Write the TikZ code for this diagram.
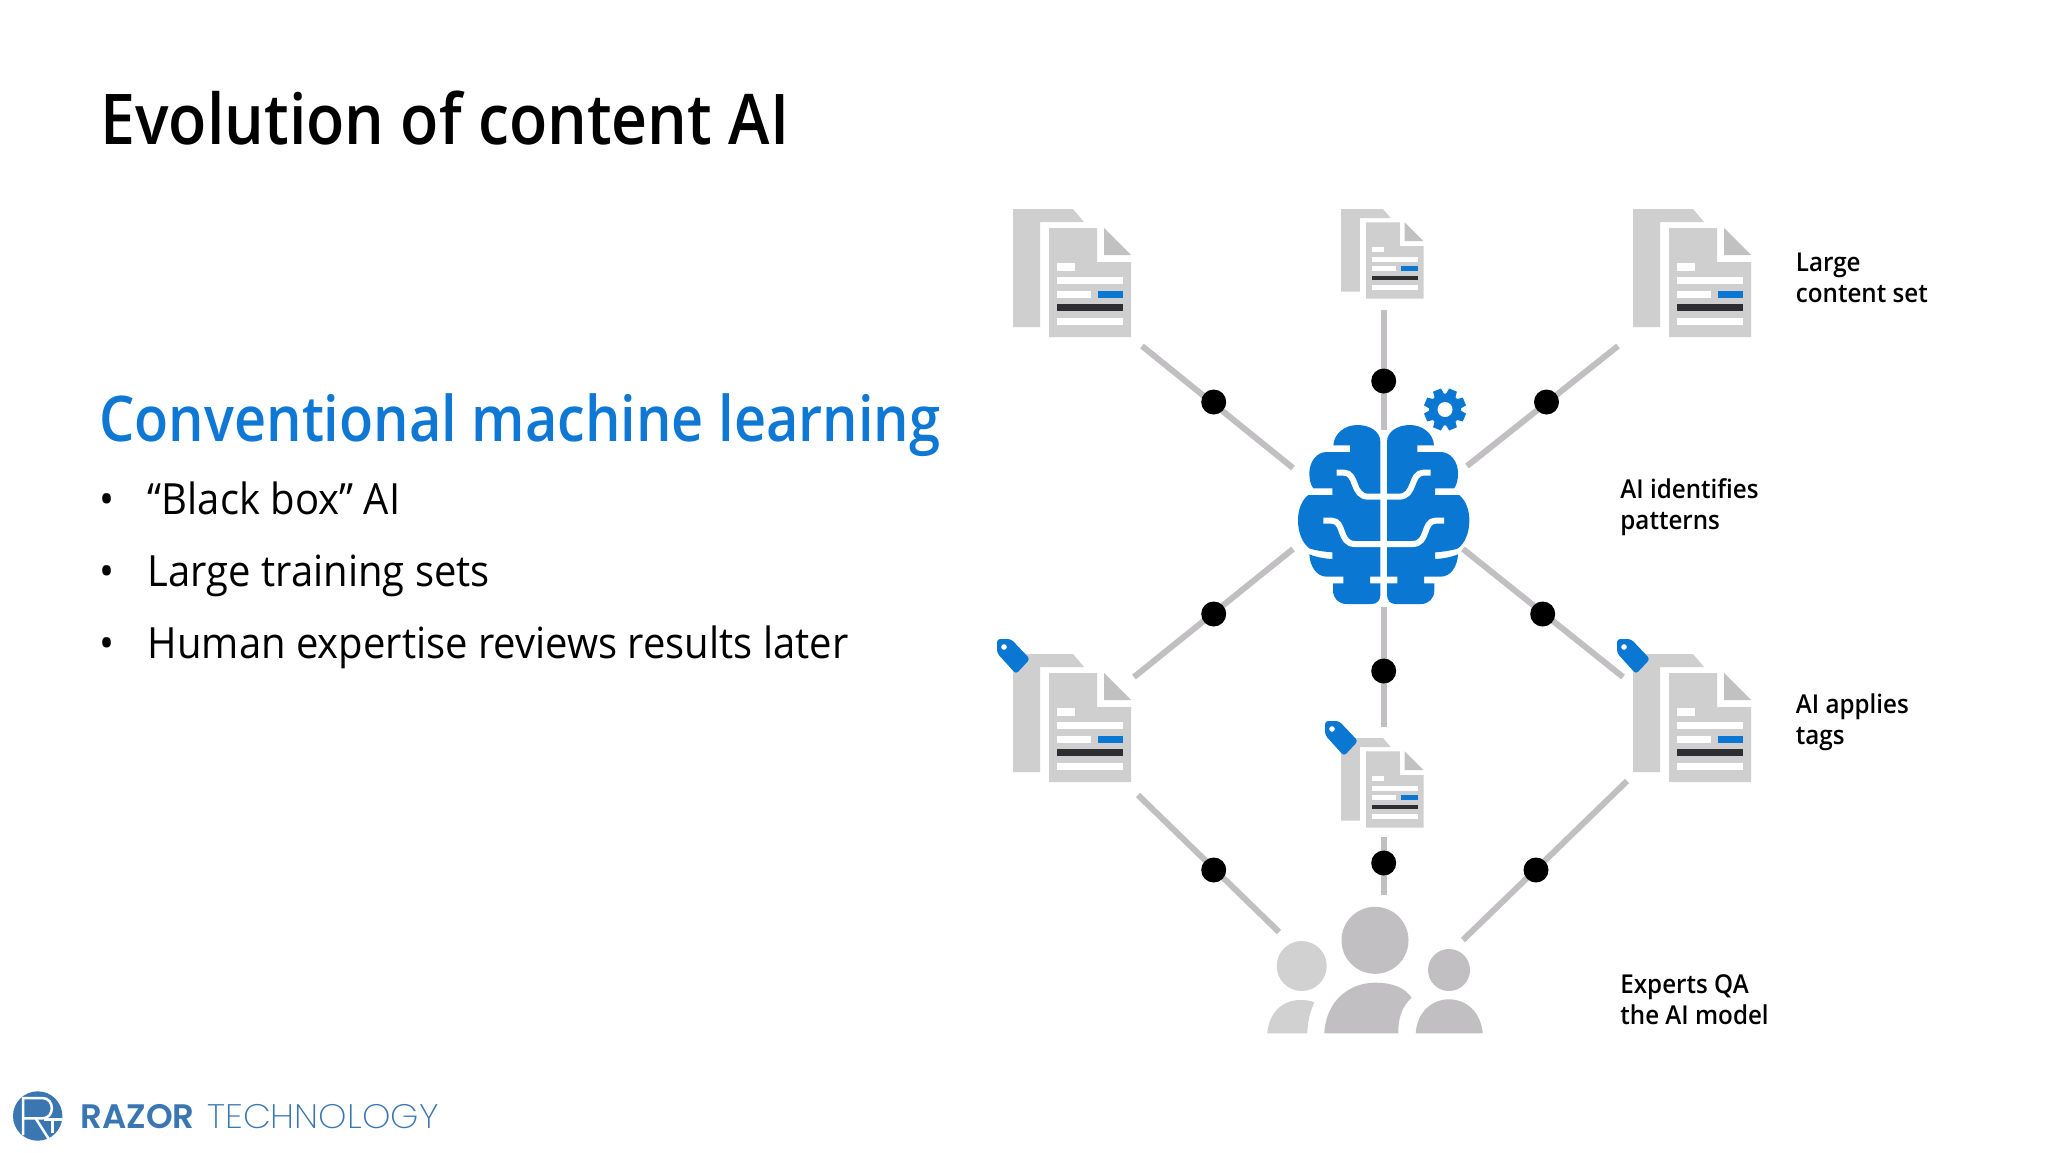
\documentclass[tikz,border=0pt]{standalone}
\usepackage{fontspec}
\setmainfont{Open Sans}[FakeStretch=0.93]
\newfontfamily\semib{Open Sans Semibold}[FakeStretch=0.93]
\newfontfamily\titlef{Open Sans Semibold}[FakeStretch=0.895]
\newfontfamily\subf{Open Sans Semibold}[FakeStretch=0.887]
\newfontfamily\logofont{Poppins SemiBold}
\newfontfamily\logothin{Poppins ExtraLight}[FakeStretch=1.062]
\definecolor{msblue}{HTML}{0F78D4}
\definecolor{iconblue}{HTML}{0A78D2}
\definecolor{docgray}{HTML}{D0CFD0}
\definecolor{foldgray}{HTML}{C2C1C2}
\definecolor{linegray}{HTML}{C1BFC1}
\definecolor{peoplegray}{HTML}{C1BFC1}
\definecolor{peoplelight}{HTML}{D2D1D2}
\definecolor{darkbar}{HTML}{2E2E30}
\definecolor{logoblue}{HTML}{3A77B2}
\tikzset{
  x=.5pt,y=-.5pt,
  conn/.style={draw=linegray,line width=3pt},
  dotnode/.style={circle,fill=black,inner sep=0pt,minimum size=12.5pt},
  lab/.style={font=\fontsize{13pt}{15.5pt}\selectfont\semib,anchor=base west,inner sep=0pt,align=left},
  bul/.style={font=\fontsize{21.5pt}{24pt}\selectfont,anchor=base west,inner sep=0pt},
  pics/docicon/.style={code={
    \fill[docgray] (0,0)--(60,0)--(71,13)--(27,13)--(27,118)--(0,118)--cycle;
    \fill[docgray] (36,19)--(84,19)--(84,53)--(118,53)--(118,128)--(36,128)--cycle;
    \fill[foldgray] (91,19)--(91,46)--(118,46)--cycle;
    \fill[white] (44,54) rectangle (62,62);
    \fill[white] (44,68) rectangle (110,75);
    \fill[white] (44,82) rectangle (78,89);
    \fill[iconblue] (85,82) rectangle (110,89);
    \fill[darkbar] (44,95) rectangle (110,102);
    \fill[white] (44,109) rectangle (110,116);
  }},
  pics/tagicon/.style={code={
    \fill[iconblue,rounded corners=1.6pt] (-16,-15)--(-2,-15)--(17,5)--(3,20)--(-16,-1)--cycle;
    \fill[white] (-9,-7) circle[radius=2.8];
  }},
  pics/brainhalf/.style={code={
    \fill[iconblue] (331,215) .. controls (331,185) and (300,165) .. (262,165)
      .. controls (225,165) and (192,190) .. (190,226) -- (240,226) -- (240,246) -- (170,246)
      .. controls (140,246) and (118,275) .. (118,310) .. controls (118,330) and (122,345) .. (130,355)
      -- (187,355) -- (187,375) -- (115,375) .. controls (95,390) and (84,420) .. (84,450)
      .. controls (84,490) and (98,520) .. (118,535) .. controls (140,543) and (165,545) .. (187,547)
      -- (187,567) .. controls (165,566) and (140,562) .. (118,553)
      .. controls (120,590) and (140,620) .. (170,620) -- (220,620) -- (220,640) -- (189,640) -- (189,660)
      .. controls (189,685) and (205,702) .. (230,702) -- (305,702) .. controls (320,702) and (331,692) .. (331,675)
      -- (331,640) -- (300,640) -- (300,620) -- (331,620) -- cycle;
    \draw[white,line width=3pt] (200,308) -- (222,308) .. controls (262,308) and (245,380) .. (295,380) -- (335,380);
    \draw[white,line width=3pt] (160,452) -- (185,452) .. controls (225,452) and (205,522) .. (255,522) -- (335,522);
  }},
}
\begin{document}
\begin{tikzpicture}
\useasboundingbox (0,0) rectangle (2048,1152);
\fill[white] (0,0) rectangle (2048,1152);

% connector ends
\coordinate (tlA) at (1142,346); \coordinate (tlB) at (1293,468);
\coordinate (tmA) at (1383.7,310); \coordinate (tmB) at (1383.7,430);
\coordinate (trA) at (1618,346); \coordinate (trB) at (1467,466);
\coordinate (mlA) at (1293,549); \coordinate (mlB) at (1134,677);
\coordinate (mmA) at (1383.7,607); \coordinate (mmB) at (1383.7,727);
\coordinate (mrA) at (1463,549); \coordinate (mrB) at (1623,677);
\coordinate (blA) at (1138,795); \coordinate (blB) at (1279,932);
\coordinate (bmA) at (1383.7,837); \coordinate (bmB) at (1383.7,895);
\coordinate (brA) at (1627,781); \coordinate (brB) at (1463,940);
\foreach \p in {tl,tm,tr,ml,mm,mr,bl,bm,br}{\draw[conn] (\p A) -- (\p B);}

\node[dotnode] (dtl) at (1213.7,402) {};
\node[dotnode] (dtm) at (1383.7,381) {};
\node[dotnode] (dtr) at (1546.5,402) {};
\node[dotnode] (dml) at (1213.7,614) {};
\node[dotnode] (dmm) at (1383.7,671) {};
\node[dotnode] (dmr) at (1542.7,614) {};
\node[dotnode] (dbl) at (1213.7,870) {};
\node[dotnode] (dbm) at (1383.7,863) {};
\node[dotnode] (dbr) at (1536,870) {};

% documents
\pic at (1013,209) {docicon};
\pic[scale=.7] at (1341,209) {docicon};
\pic at (1633,209) {docicon};
\pic at (1013,654) {docicon};
\pic[scale=.7] at (1341,738) {docicon};
\pic at (1633,654) {docicon};
\pic at (1013,654) {tagicon};
\pic at (1341,736) {tagicon};
\pic at (1633,654) {tagicon};

% brain
\pic[shift={(1383.67-113.67,370)},scale=1/3] at (0,0) {brainhalf};
\pic[shift={(1383.67+113.67,370)},xscale=-1/3,yscale=1/3] at (0,0) {brainhalf};

% gear
\begin{scope}[shift={(1445,409.5)}]
  \foreach \a in {0,45,...,315}{
    \fill[iconblue,rotate=\a+22.5] (-4.2,-21) -- (4.2,-21) -- (5.5,-12) -- (-5.5,-12) -- cycle;
  }
  \fill[iconblue] (0,0) circle[radius=16];
  \fill[white] (0,0) circle[radius=7.5];
\end{scope}

% people
\fill[peoplegray] (1375,940.3) circle[radius=33.5];
\fill[peoplegray] (1324.3,1033.3) .. controls (1326,1000) and (1350,982.7) .. (1375,982.7)
  .. controls (1392,982.7) and (1404,987) .. (1411.7,997.7) .. controls (1401,1007) and (1398,1020) .. (1398.3,1033.3) -- cycle;
\fill[peoplelight] (1301.7,966) circle[radius=25];
\fill[peoplelight] (1267.3,1033.3) .. controls (1269,1012) and (1283,1000) .. (1300,1000)
  .. controls (1306,1000) and (1310,1000.5) .. (1314.3,1002.3) .. controls (1310,1012) and (1307.5,1022) .. (1307.3,1033.3) -- cycle;
\fill[peoplegray] (1449,970) circle[radius=21];
\fill[peoplegray] (1415.7,1033.3) .. controls (1417,1012) and (1432,999.3) .. (1449,999.3)
  .. controls (1466,999.3) and (1481,1012) .. (1482.7,1033.3) -- cycle;

% text
\node[font=\fontsize{35pt}{40pt}\selectfont\titlef,anchor=base west,inner sep=0pt,text=black] (title) at (100,144) {Evolution of content AI};
\node[font=\fontsize{31.5pt}{36pt}\selectfont\subf,anchor=base west,inner sep=0pt,text=msblue] (sub) at (99,441) {Conventional machine learning};
\node[bul] (b1) at (147.5,514.5) {“Black box” AI};
\node[bul] (b2) at (147.5,586.5) {Large training sets};
\node[bul] (b3) at (147.5,658.5) {Human expertise reviews results later};
\node[bul] (bd1) at (99,514.5) {•};
\node[bul] (bd2) at (99,586.5) {•};
\node[bul] (bd3) at (99,658.5) {•};

\node[lab] (la) at (1795.5,271.5) {Large};
\node[lab] (lb) at (1795.5,302.5) {content set};
\node[lab] (lc) at (1620,498.5) {AI identifies};
\node[lab] (ld) at (1620,529.5) {patterns};
\node[lab] (le) at (1795.5,713.5) {AI applies};
\node[lab] (lf) at (1795.5,744.5) {tags};
\node[lab] (lg) at (1620,993.5) {Experts QA};
\node[lab] (lh) at (1620,1024.5) {the AI model};

% logo
\fill[logoblue] (37.7,1116) circle[radius=24.7];
\begin{scope}[shift={(5,1085)},scale=1/3]
  \draw[white,line width=1.25pt] (54,150) -- (54,39) -- (112,39) .. controls (150,39) and (150,100) .. (112,100) -- (54,100);
  \draw[white,line width=1.25pt] (92,100) -- (132,163);
  \draw[white,line width=1.25pt] (118,104) -- (172,104);
  \draw[white,line width=1.25pt] (142,104) -- (142,143);
\end{scope}
\node[font=\fontsize{17pt}{20pt}\selectfont\logofont,text=logoblue,anchor=base west,inner sep=0pt] (razor) at (80,1128) {RAZOR};
\node[font=\fontsize{17pt}{20pt}\selectfont\logothin,text=logoblue,anchor=base west,inner sep=0pt] (tech) at (207,1128) {TECHNOLOGY};
\end{tikzpicture}
\end{document}
